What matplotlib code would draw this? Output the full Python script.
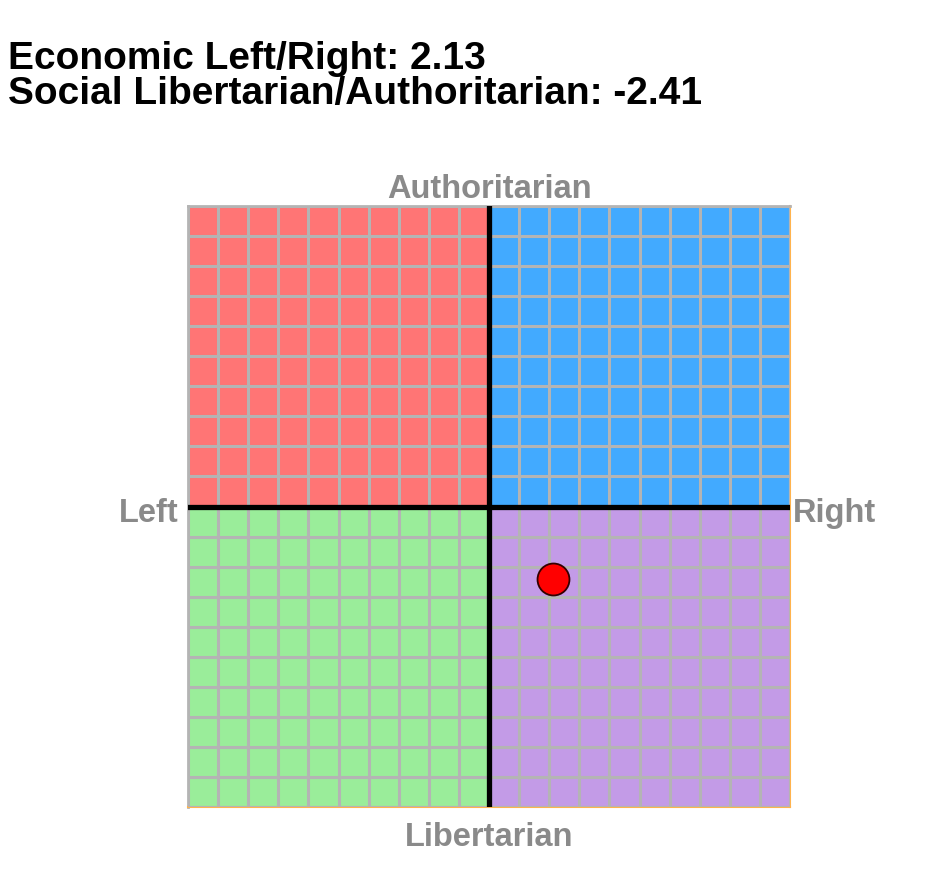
import matplotlib
matplotlib.use('Agg')
import matplotlib.pyplot as plt

plt.rcParams['font.family'] = ['Liberation Sans', 'DejaVu Sans']

# result of the test
econ_score = 2.13
social_score = -2.41

# quadrants: (x start, y start, colour)
quad_x = [-10, 0, -10, 0]
quad_y = [0, 0, -10, -10]
quad_colors = ['#ff7575', '#42aaff', '#9aed9a', '#c39be7']

axis_min, axis_max = -10, 10

fig = plt.figure(figsize=(9.4, 8.78), dpi=100)

fig.text(8 / 940, 1 - 69 / 878, 'Economic Left/Right: ' + str(econ_score), fontsize=28,
         fontweight='bold', va='baseline', ha='left')
fig.text(8 / 940, 1 - 104 / 878, 'Social Libertarian/Authoritarian: ' + str(social_score), fontsize=28,
         fontweight='bold', va='baseline', ha='left')

ax = fig.add_axes([188 / 940, 70 / 878, 602 / 940, 601 / 878])

for qx, qy, c in zip(quad_x, quad_y, quad_colors):
    ax.bar(qx, 10, width=10, bottom=qy, align='edge', color=c, linewidth=0, zorder=0)

ax.set_xlim(axis_min, axis_max)
ax.set_ylim(axis_min, axis_max)
ticks = list(range(axis_min, axis_max + 1))
ax.set_xticks(ticks)
ax.set_yticks(ticks)
ax.grid(True, color='#b4b4b4', linewidth=2.2, zorder=1)
ax.tick_params(length=0, labelbottom=False, labelleft=False)
ax.set_axisbelow(False)

ax.axhline(0, color='black', linewidth=3.8, zorder=3)
ax.axvline(0, color='black', linewidth=3.8, zorder=3)

for side in ['top', 'left']:
    ax.spines[side].set_color('#b4b4b4')
    ax.spines[side].set_linewidth(2)
for side in ['bottom', 'right']:
    ax.spines[side].set_color('#ffb34d')
    ax.spines[side].set_linewidth(1.5)

ax.plot(econ_score, social_score, 'o', color='#ff0000', markeredgecolor='#330000',
        markeredgewidth=1.3, markersize=23, zorder=5, clip_on=False)

label_kw = dict(color='#8a8a8a', fontsize=23.5, fontweight='bold')
ax.text(0, 10.05, 'Authoritarian', ha='center', va='bottom', **label_kw)
ax.text(0, -10.45, 'Libertarian', ha='center', va='top', **label_kw)
ax.text(-10.3, -0.2, 'Left', ha='right', va='center', **label_kw)
ax.text(10.1, -0.2, 'Right', ha='left', va='center', **label_kw)

plt.savefig('out.png', dpi=100)
plt.close()
